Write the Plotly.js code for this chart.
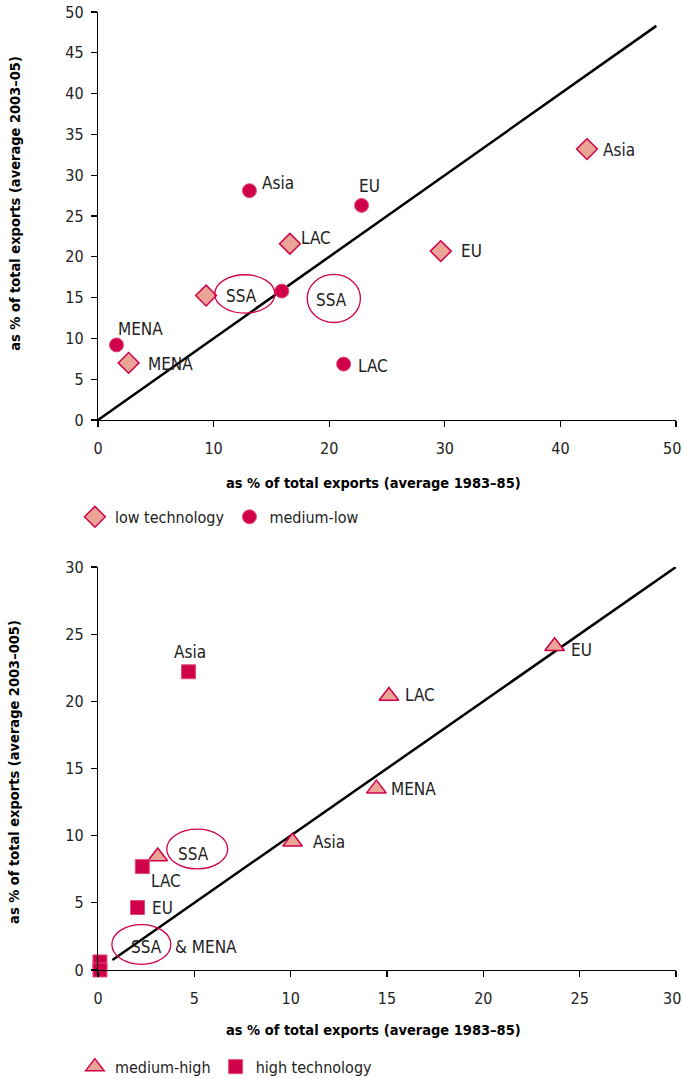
<!DOCTYPE html>
<html>
<head>
<meta charset="utf-8">
<script src="https://cdn.plot.ly/plotly-3.0.1.min.js"></script>
<style>html,body{margin:0;padding:0;background:#fff;}#chart{width:683px;height:1079px;}</style>
</head>
<body>
<div id="chart"></div>
<script>
// ---- Top panel data ----
var lowRegions = ["Asia", "EU", "LAC", "SSA", "MENA"];
var lowX = [42.3, 29.65, 16.6, 9.35, 2.65];
var lowY = [33.2, 20.7, 21.6, 15.25, 7.0];

var medLowRegions = ["Asia", "EU", "SSA", "MENA", "LAC"];
var medLowX = [13.1, 22.8, 15.9, 1.6, 21.25];
var medLowY = [28.1, 26.3, 15.8, 9.2, 6.85];

var topLabels = ["Asia", "EU", "LAC", "EU", "Asia", "MENA", "MENA", "LAC", "SSA", "SSA"];
var topLabelX = [15.6, 23.5, 18.9, 32.3, 45.1, 3.7, 6.3, 23.8, 12.4, 20.2];
var topLabelY = [29.1, 28.7, 22.3, 20.7, 33.1, 11.1, 6.9, 6.6, 15.25, 14.7];

var topEllipseX = [12.7, 20.4];
var topEllipseY = [15.45, 14.9];
var topEllipseRX = [2.6, 2.3];
var topEllipseRY = [2.35, 2.95];

var topDiag = [0, 48.3];

// ---- Bottom panel data ----
var medHighRegions = ["EU", "LAC", "MENA", "Asia", "SSA"];
var medHighX = [23.7, 15.1, 14.45, 10.1, 3.1];
var medHighY = [24.1, 20.4, 13.5, 9.55, 8.45];

var highRegions = ["Asia", "LAC", "EU", "SSA", "MENA"];
var highX = [4.7, 2.3, 2.05, 0.1, 0.1];
var highY = [22.2, 7.7, 4.65, 0.6, 0.0];

var botLabels = ["Asia", "EU", "LAC", "MENA", "Asia", "SSA", "LAC", "EU", "SSA", "& MENA"];
var botLabelX = [4.75, 25.1, 16.7, 16.4, 12.0, 4.95, 3.55, 3.35, 2.5, 5.6];
var botLabelY = [23.7, 23.85, 20.5, 13.5, 9.55, 8.6, 6.6, 4.6, 1.7, 1.7];

var botEllipseX = [5.15, 2.25];
var botEllipseY = [9.0, 1.9];
var botEllipseRX = [1.58, 1.53];
var botEllipseRY = [1.48, 1.48];

var botDiag = [0.75, 30];

var topTicks = [0, 10, 20, 30, 40, 50];
var topYTicks = [0, 5, 10, 15, 20, 25, 30, 35, 40, 45, 50];
var botTicks = [0, 5, 10, 15, 20, 25, 30];

var xTitle = "as % of total exports (average 1983–85)";
var yTitleTop = "as % of total exports (average 2003–05)";
var yTitleBot = "as % of total exports (average 2003–005)";

// ---- styling ----
var CRIMSON = "#D0004A";
var SALMON = "#EBA596";
var FONT = "'DejaVu Sans Condensed', 'Liberation Sans', sans-serif";
var TXT = "#222222";

var traces = [
  {x: topDiag, y: topDiag, mode: "lines", line: {color: "#000", width: 2.5}, showlegend: false, hoverinfo: "skip", xaxis: "x", yaxis: "y", cliponaxis: false},
  {x: lowX, y: lowY, text: lowRegions, name: "low technology", mode: "markers", xaxis: "x", yaxis: "y", cliponaxis: false,
   marker: {symbol: "diamond", size: 16, color: SALMON, line: {color: CRIMSON, width: 1.5}}, legend: "legend"},
  {x: medLowX, y: medLowY, text: medLowRegions, name: "medium-low", mode: "markers", xaxis: "x", yaxis: "y", cliponaxis: false,
   marker: {symbol: "circle", size: 14, color: CRIMSON, line: {color: "#E0507A", width: 1}}, legend: "legend"},

  {x: botDiag, y: botDiag, mode: "lines", line: {color: "#000", width: 2.5}, showlegend: false, hoverinfo: "skip", xaxis: "x2", yaxis: "y2", cliponaxis: false},
  {x: medHighX, y: medHighY, text: medHighRegions, name: "medium-high", mode: "markers", xaxis: "x2", yaxis: "y2", cliponaxis: false,
   marker: {symbol: "triangle-up", size: 17, color: SALMON, line: {color: CRIMSON, width: 1.5}}, legend: "legend2"},
  {x: highX, y: highY, text: highRegions, name: "high technology", mode: "markers", xaxis: "x2", yaxis: "y2", cliponaxis: false,
   marker: {symbol: "square", size: 14, color: CRIMSON, line: {color: "#E0507A", width: 1}}, legend: "legend2"}
];

var annotations = [];
function addLabels(labels, xs, ys, xr, yr) {
  for (var i = 0; i < labels.length; i++) {
    annotations.push({x: xs[i], y: ys[i], xref: xr, yref: yr, text: labels[i], showarrow: false,
      font: {family: FONT, size: 17, color: TXT}, xanchor: "center", yanchor: "middle"});
  }
}
addLabels(topLabels, topLabelX, topLabelY, "x", "y");
addLabels(botLabels, botLabelX, botLabelY, "x2", "y2");

// axis titles as annotations
var titleFont = {family: FONT, size: 14.5, color: "#000"};
annotations.push({text: "<b>" + xTitle + "</b>", xref: "paper", yref: "paper", x: 0.476, y: 0.508, showarrow: false, font: titleFont, xanchor: "center", yanchor: "middle"});
annotations.push({text: "<b>" + xTitle + "</b>", xref: "paper", yref: "paper", x: 0.476, y: -0.0626, showarrow: false, font: titleFont, xanchor: "center", yanchor: "middle"});
annotations.push({text: "<b>" + yTitleTop + "</b>", xref: "paper", yref: "paper", x: -0.145, y: 0.8, textangle: -90, showarrow: false, font: titleFont, xanchor: "center", yanchor: "middle"});
annotations.push({text: "<b>" + yTitleBot + "</b>", xref: "paper", yref: "paper", x: -0.145, y: 0.207, textangle: -90, showarrow: false, font: titleFont, xanchor: "center", yanchor: "middle"});

// last x tick labels, kept inside the page edge
var tickFont = {family: FONT, size: 16, color: TXT};
annotations.push({text: String(topTicks[topTicks.length - 1]), xref: "paper", yref: "paper", x: 1.0121, y: 0.5741, yshift: -28, showarrow: false, font: tickFont, xanchor: "right", yanchor: "middle"});
annotations.push({text: String(botTicks[botTicks.length - 1]), xref: "paper", yref: "paper", x: 1.0121, y: 0, yshift: -28, showarrow: false, font: tickFont, xanchor: "right", yanchor: "middle"});

function tickText(vals) { return vals.map(function (v, i) { return i === vals.length - 1 ? "" : String(v); }); }

var shapes = [];
function addEllipses(cx, cy, rx, ry, xr, yr) {
  for (var i = 0; i < cx.length; i++) {
    shapes.push({type: "circle", xref: xr, yref: yr, x0: cx[i] - rx[i], x1: cx[i] + rx[i], y0: cy[i] - ry[i], y1: cy[i] + ry[i],
      line: {color: CRIMSON, width: 1.3}, fillcolor: "rgba(0,0,0,0)", layer: "above"});
  }
}
addEllipses(topEllipseX, topEllipseY, topEllipseRX, topEllipseRY, "x", "y");
addEllipses(botEllipseX, botEllipseY, botEllipseRX, botEllipseRY, "x2", "y2");

var axisCommon = {showgrid: false, zeroline: false, showline: true, linecolor: "#000", linewidth: 1.2,
  ticks: "outside", ticklen: 6, tickcolor: "#000", tickwidth: 1.2,
  tickfont: tickFont, fixedrange: true};

function ax(extra) { return Object.assign({}, axisCommon, extra); }

var layout = {
  width: 683, height: 1079,
  margin: {l: 98, r: 7, t: 12, b: 109, autoexpand: false},
  paper_bgcolor: "#fff", plot_bgcolor: "#fff",
  font: {family: FONT, size: 16, color: TXT},
  xaxis: ax({domain: [0, 1], range: [0, 50], tickvals: topTicks, ticktext: tickText(topTicks), anchor: "y", ticklabelstandoff: 8}),
  yaxis: ax({domain: [0.5741, 1], range: [0, 50], tickvals: topYTicks, anchor: "x", ticklabelstandoff: 4}),
  xaxis2: ax({domain: [0, 1], range: [0, 30], tickvals: botTicks, ticktext: tickText(botTicks), anchor: "y2", ticklabelstandoff: 8}),
  yaxis2: ax({domain: [0, 0.4207], range: [0, 30], tickvals: botTicks, anchor: "x2", ticklabelstandoff: 4}),
  showlegend: true,
  legend: {orientation: "h", x: -0.04, y: 0.473, xanchor: "left", yanchor: "middle", font: {family: FONT, size: 16, color: TXT},
    bgcolor: "rgba(0,0,0,0)", itemwidth: 30, tracegroupgap: 0},
  legend2: {orientation: "h", x: -0.04, y: -0.101, xanchor: "left", yanchor: "middle", font: {family: FONT, size: 16, color: TXT},
    bgcolor: "rgba(0,0,0,0)", itemwidth: 30},
  annotations: annotations,
  shapes: shapes
};

Plotly.newPlot("chart", traces, layout, {staticPlot: true, displayModeBar: false});
</script>
</body>
</html>
